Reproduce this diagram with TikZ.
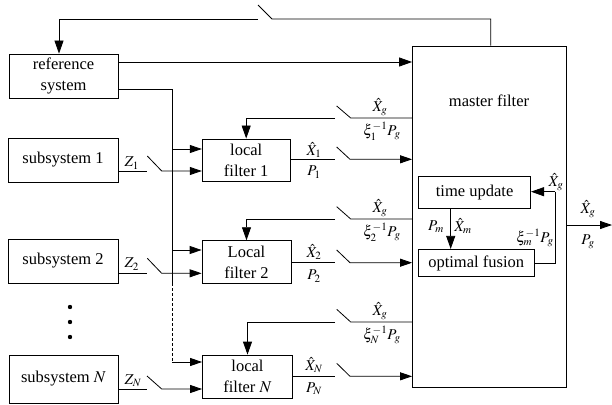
\documentclass[tikz,border=0pt]{standalone}
\usepackage{mathptmx}
\usepackage{fontspec}
\setmainfont{Liberation Serif}
\usetikzlibrary{arrows.meta}
\begin{document}
\begin{tikzpicture}[x=1pt,y=-1pt,
  font=\fontsize{16.5}{21}\selectfont,
  box/.style={draw, line width=0.8pt, inner sep=0pt, align=center},
  ln/.style={line width=0.8pt},
  arr/.style={ln, -{Triangle[length=12pt,width=8pt]}},
  darr/.style={ln, -{Triangle[length=13pt,width=9pt]}},
  lbl/.style={font=\fontsize{15}{16}\selectfont, inner sep=0pt}]
\useasboundingbox (0,0) rectangle (612,404);

% boxes
\node[box, minimum width=109pt, minimum height=44pt] (ref) at (63.5,76) {reference\\system};
\node[box, minimum width=110pt, minimum height=44pt] (sub1) at (63,160) {subsystem 1};
\node[box, minimum width=110pt, minimum height=44pt] (sub2) at (63,261) {subsystem 2};
\node[box, minimum width=109pt, minimum height=48pt] (subN) at (63.5,379) {subsystem $N$};
\node[box, minimum width=88pt, minimum height=42.7pt] (lf1) at (246.2,160.3) {local\\filter 1};
\node[box, minimum width=89pt, minimum height=42.7pt] (lf2) at (246.5,262) {Local\\filter 2};
\node[box, minimum width=90pt, minimum height=43pt] (lfN) at (247.5,376.5) {local\\filter $N$};
\node[box, minimum width=153.5pt, minimum height=341pt] (master) at (489.25,216.5) {};
\node (mtxt) at (489,101) {master filter};
\node[box, minimum width=112pt, minimum height=31.6pt] (tu) at (474.6,192.5) {time update};
\node[box, minimum width=115.5pt, minimum height=27.4pt] (of) at (476.2,263) {optimal fusion};

% dots
\fill (70,307) circle (2.2pt);
\fill (70,322) circle (2.2pt);
\fill (70,337) circle (2.2pt);

% top feedback with switch
\draw[ln] (master.north -| 490.7,0) |- (272,19) -- (258,5);
\draw[darr] (258,19) -| (59,0 |- ref.north);

% reference system outputs
\draw[darr] (ref.east |- 0,62) -- (master.west |- 0,62);
\draw[ln] (ref.east |- 0,89) -| (172,283);
\draw[ln, dash pattern=on 3pt off 2pt] (172,283) -- (172,362);
\draw[arr] (172,362) -- (lfN.west |- 0,362);
\draw[arr] (172,149) -- (lf1.west |- 0,149);
\draw[arr] (172,250) -- (lf2.west |- 0,250);

% measurements Z with switches
\draw[ln] (sub1.east |- 0,171) -- (147,171);
\draw[arr] (147.3,156) -- (161.7,171) -- (lf1.west |- 0,171);
\draw[ln] (sub2.east |- 0,273.3) -- (147,273.3);
\draw[arr] (147.3,258.3) -- (161.7,273.3) -- (lf2.west |- 0,273.3);
\draw[ln] (subN.east |- 0,389) -- (147,389);
\draw[arr] (147,376) -- (161.7,389) -- (lfN.west |- 0,389);
\node[lbl] (z1) at (131.7,163) {$Z_1$};
\node[lbl] (z2) at (131.7,264) {$Z_2$};
\node[lbl] (zN) at (133,381) {$Z_N$};

% feedback to local filters
\draw[ln] (master.west |- 0,118) -- (350.7,118) -- (336.7,106);
\draw[darr] (335,118) -| (lf1.north);
\draw[ln] (master.west |- 0,219) -- (350.7,219) -- (336.7,206.7);
\draw[darr] (335,219) -| (lf2.north);
\draw[ln] (master.west |- 0,322) -- (350.7,322) -- (336.7,309.3);
\draw[darr] (335,322) -| (lfN.north);
\node[lbl] (fg1) at (380,107) {$\hat{X}_g$};
\node[lbl] (fp1) at (382,131) {$\xi_1^{-1}P_g$};
\node[lbl] (fg2) at (380,208) {$\hat{X}_g$};
\node[lbl] (fp2) at (382,232) {$\xi_2^{-1}P_g$};
\node[lbl] (fgN) at (380,311) {$\hat{X}_g$};
\node[lbl] (fpN) at (382,335) {$\xi_N^{-1}P_g$};

% local filter outputs
\draw[ln] (lf1.east |- 0,159.3) -- (335,159.3);
\draw[arr] (336.7,147) -- (350,159.3) -- (master.west |- 0,159.3);
\draw[ln] (lf2.east |- 0,262.7) -- (335,262.7);
\draw[arr] (336.7,250) -- (350,262.7) -- (master.west |- 0,262.7);
\draw[ln] (lfN.east |- 0,376.3) -- (335,376.3);
\draw[arr] (336.7,363.3) -- (350,376.3) -- (master.west |- 0,376.3);
\node[lbl] (x1) at (314,150) {$\hat{X}_1$};
\node[lbl] (p1) at (314,172) {$P_1$};
\node[lbl] (x2) at (314,252) {$\hat{X}_2$};
\node[lbl] (p2) at (314,276) {$P_2$};
\node[lbl] (xN) at (314,365) {$\hat{X}_N$};
\node[lbl] (pN) at (314,389) {$P_N$};

% inside master filter
\draw[darr] (tu.south -| 450.7,0) -- (of.north -| 450.7,0);
\node[lbl] (pm) at (436,227) {$P_m$};
\node[lbl] (xm) at (463,226) {$\hat{X}_m$};
\draw[ln] (of.east |- 0,263.3) -| (555.3,191.7);
\draw[darr] (555.3,191.7) -- (tu.east |- 0,191.7);
\node[lbl] (xg) at (556,182) {$\hat{X}_g$};
\node[lbl] (pg) at (535,238) {$\xi_m^{-1}P_g$};

% output
\coordinate (out) at (612,225);
\draw[arr] (master.east |- 0,225) -- (out);
\node[lbl] (ox) at (588,209) {$\hat{X}_g$};
\node[lbl] (op) at (588,242) {$P_g$};
\end{tikzpicture}
\end{document}
